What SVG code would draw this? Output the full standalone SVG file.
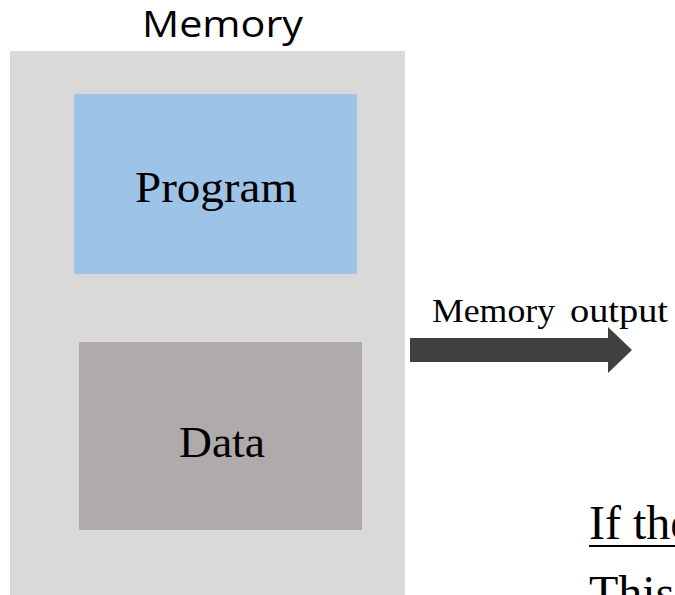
<svg xmlns="http://www.w3.org/2000/svg" width="675" height="595" viewBox="0 0 675 595">
<style>
.serif{font-family:"Liberation Serif","Times New Roman",serif;fill:#000}
.sans{font-family:"Open Sans","Noto Sans",sans-serif;fill:#000}
</style>
<rect width="675" height="595" fill="#FFFFFF"/>
<g id="memory">
<rect x="10" y="51" width="395" height="544" fill="#D9D9D9"/>
<text class="sans" x="142" y="37" font-size="37" textLength="161" lengthAdjust="spacingAndGlyphs">Memory</text>
</g>
<g id="program">
<rect x="74" y="94" width="283" height="180" fill="#9DC3E6"/>
<text class="serif" x="135" y="202" font-size="45" textLength="162" lengthAdjust="spacingAndGlyphs">Program</text>
</g>
<g id="data">
<rect x="79" y="342" width="283" height="188" fill="#AFABAB"/>
<text class="serif" x="179" y="457" font-size="44" textLength="86" lengthAdjust="spacingAndGlyphs">Data</text>
</g>
<g id="connectors">
<polygon points="410,338 608,338 608,327 632,350 608,373 608,362 410,362" fill="#404040"/>
<text class="serif" y="322" font-size="33"><tspan x="432" textLength="123" lengthAdjust="spacingAndGlyphs">Memory</tspan> <tspan x="570" textLength="98" lengthAdjust="spacingAndGlyphs">output</tspan></text>
</g>
<g id="note">
<text class="serif" x="589" y="539" font-size="48">If the</text>
<rect x="589" y="545" width="90" height="2" fill="#000"/>
<text class="serif" x="589" y="609" font-size="48">This</text>
</g>
</svg>
